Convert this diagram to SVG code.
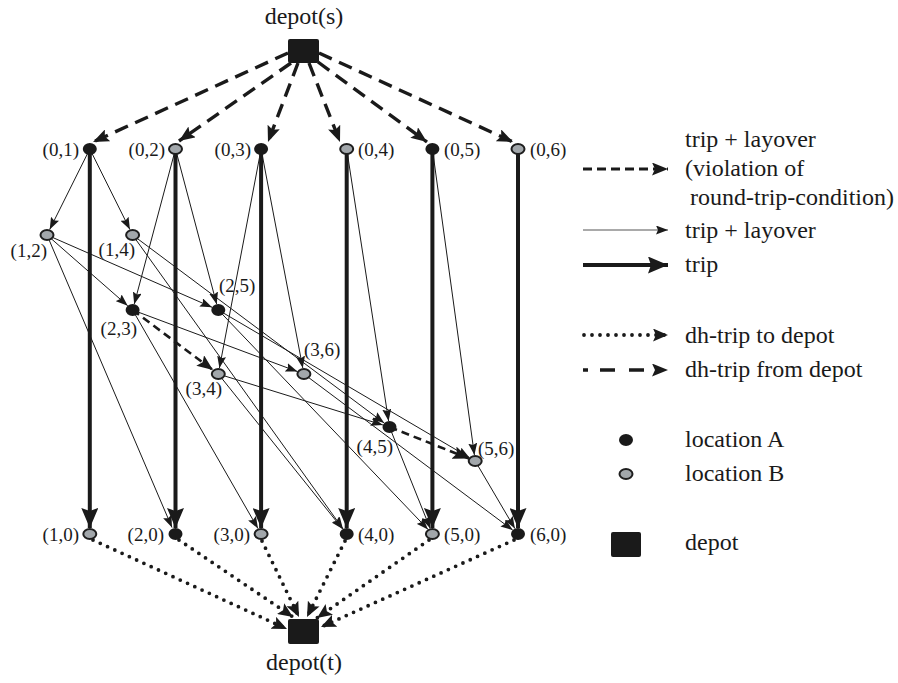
<svg xmlns="http://www.w3.org/2000/svg" width="898" height="683" viewBox="0 0 898 683" font-family="Liberation Serif, Times New Roman, DejaVu Serif, serif">
<style>
.lbl{font-size:19px;fill:#1a1a1a}
.big{font-size:24px;fill:#1a1a1a}
.na{fill:#1a1a1a}
.nb{fill:#a2a7ab;stroke:#1e1e1e;stroke-width:2}
.dep{fill:#1a1a1a}
.thin{stroke:#1a1a1a;stroke-width:1;fill:none;marker-end:url(#mThin)}
.thick{stroke:#1a1a1a;stroke-width:4;fill:none;marker-end:url(#mThick)}
.viol{stroke:#1a1a1a;stroke-width:2.6;fill:none;stroke-dasharray:8 5;marker-end:url(#mViol)}
.from{stroke:#1a1a1a;stroke-width:3.4;fill:none;stroke-dasharray:14 8;marker-end:url(#mFrom)}
.to{stroke:#1a1a1a;stroke-width:3.8;fill:none;stroke-dasharray:0 8;stroke-linecap:round;marker-end:url(#mTo)}
</style>
<defs>
<marker id="mThin" markerUnits="userSpaceOnUse" orient="auto" markerWidth="13" markerHeight="9" refX="12" refY="4.5"><path d="M0,0 L12,4.5 L0,9 L2,4.5 z" fill="#1a1a1a"/></marker>
<marker id="mThick" markerUnits="userSpaceOnUse" orient="auto" markerWidth="21" markerHeight="17" refX="20" refY="8.5"><path d="M0,0 L20,8.5 L0,17 L3,8.5 z" fill="#1a1a1a"/></marker>
<marker id="mViol" markerUnits="userSpaceOnUse" orient="auto" markerWidth="17" markerHeight="13" refX="16" refY="6.5"><path d="M0,0 L16,6.5 L0,13 L3,6.5 z" fill="#1a1a1a"/></marker>
<marker id="mFrom" markerUnits="userSpaceOnUse" orient="auto" markerWidth="17" markerHeight="13" refX="16" refY="6.5"><path d="M0,0 L16,6.5 L0,13 L3,6.5 z" fill="#1a1a1a"/></marker>
<marker id="mTo" markerUnits="userSpaceOnUse" orient="auto" markerWidth="16" markerHeight="13" refX="15" refY="6.5"><path d="M0,0 L15,6.5 L0,13 L3,6.5 z" fill="#1a1a1a"/></marker>
</defs>

<g id="connectors">
<line class="from" x1="288" y1="53" x2="93" y2="142"/>
<line class="from" x1="291" y1="63" x2="179" y2="141"/>
<line class="from" x1="298" y1="63" x2="268" y2="142"/>
<line class="from" x1="309" y1="63" x2="340" y2="142"/>
<line class="from" x1="318" y1="62" x2="427" y2="142"/>
<line class="from" x1="319" y1="53" x2="513" y2="142"/>
<line class="thick" x1="89.8" y1="149" x2="89.8" y2="528"/>
<line class="thick" x1="175.5" y1="149" x2="175.5" y2="528"/>
<line class="thick" x1="261.1" y1="149" x2="261.1" y2="528"/>
<line class="thick" x1="346.7" y1="149" x2="346.7" y2="528"/>
<line class="thick" x1="432.4" y1="149" x2="432.4" y2="528"/>
<line class="thick" x1="518" y1="149" x2="518" y2="528"/>
<line class="thin" x1="89.8" y1="149" x2="49.7" y2="229.5"/>
<line class="thin" x1="89.8" y1="149" x2="129.9" y2="229.5"/>
<line class="thin" x1="175.5" y1="149" x2="134.2" y2="304.2"/>
<line class="thin" x1="175.5" y1="149" x2="216.7" y2="304.2"/>
<line class="thin" x1="261.1" y1="149" x2="219.4" y2="368.1"/>
<line class="thin" x1="261.1" y1="149" x2="302.8" y2="368.1"/>
<line class="thin" x1="346.7" y1="149" x2="388.6" y2="421"/>
<line class="thin" x1="432.4" y1="149" x2="474.4" y2="455"/>
<line class="thin" x1="47" y1="235" x2="127.7" y2="305.7"/>
<line class="thin" x1="47" y1="235" x2="212.1" y2="307.3"/>
<line class="thin" x1="47" y1="235" x2="172" y2="527.5"/>
<line class="thin" x1="132.6" y1="235" x2="384.2" y2="423"/>
<line class="thin" x1="132.6" y1="235" x2="343" y2="528.9"/>
<line class="thin" x1="132.6" y1="310" x2="297.5" y2="371.6"/>
<line class="thin" x1="132.6" y1="310" x2="258" y2="528.6"/>
<line class="thin" x1="218.3" y1="310" x2="469.4" y2="457.6"/>
<line class="thin" x1="218.3" y1="310" x2="428" y2="529.4"/>
<line class="thin" x1="218.3" y1="374" x2="382.9" y2="425"/>
<line class="thin" x1="218.3" y1="374" x2="342.7" y2="529.1"/>
<line class="thin" x1="303.9" y1="374" x2="512.7" y2="530.1"/>
<line class="thin" x1="389.5" y1="427" x2="430.1" y2="528.3"/>
<line class="thin" x1="475.2" y1="461" x2="514.9" y2="528.6"/>
<line class="viol" x1="132.6" y1="310" x2="213" y2="370.1"/>
<line class="viol" x1="389.5" y1="427" x2="468.9" y2="458.5"/>
<line class="to" x1="93" y1="540" x2="287" y2="629"/>
<line class="to" x1="179" y1="540" x2="293" y2="617"/>
<line class="to" x1="262" y1="541" x2="299" y2="617"/>
<line class="to" x1="345" y1="541" x2="307" y2="617"/>
<line class="to" x1="429" y1="540" x2="317" y2="618"/>
<line class="to" x1="514" y1="540" x2="321" y2="627"/>
</g>

<g id="depot-s"><rect class="dep" x="288" y="39" width="31" height="24" rx="2"/><text class="big" x="304" y="24" text-anchor="middle">depot(s)</text></g>
<g id="depot-t"><rect class="dep" x="288" y="619" width="31" height="25" rx="2"/><text class="big" x="304" y="670" text-anchor="middle">depot(t)</text></g>

<g id="n01"><ellipse class="na" cx="89.8" cy="149" rx="7" ry="6"/><text class="lbl" x="79" y="156" text-anchor="end">(0,1)</text></g>
<g id="n02"><ellipse class="nb" cx="175.5" cy="149" rx="6.5" ry="5"/><text class="lbl" x="165" y="156" text-anchor="end">(0,2)</text></g>
<g id="n03"><ellipse class="na" cx="261.1" cy="149" rx="7" ry="6"/><text class="lbl" x="251" y="156" text-anchor="end">(0,3)</text></g>
<g id="n04"><ellipse class="nb" cx="346.7" cy="149" rx="6.5" ry="5"/><text class="lbl" x="358" y="156">(0,4)</text></g>
<g id="n05"><ellipse class="na" cx="432.4" cy="149" rx="7" ry="6"/><text class="lbl" x="444" y="156">(0,5)</text></g>
<g id="n06"><ellipse class="nb" cx="518" cy="149" rx="6.5" ry="5"/><text class="lbl" x="530" y="156">(0,6)</text></g>
<g id="n12"><ellipse class="nb" cx="47" cy="235" rx="6.5" ry="5"/><text class="lbl" x="47" y="257" text-anchor="end">(1,2)</text></g>
<g id="n14"><ellipse class="nb" cx="132.6" cy="235" rx="6.5" ry="5"/><text class="lbl" x="135" y="256" text-anchor="end">(1,4)</text></g>
<g id="n23"><ellipse class="na" cx="132.6" cy="310" rx="7" ry="6"/><text class="lbl" x="137" y="335" text-anchor="end">(2,3)</text></g>
<g id="n25"><ellipse class="na" cx="218.3" cy="310" rx="7" ry="6"/><text class="lbl" x="219" y="292">(2,5)</text></g>
<g id="n34"><ellipse class="nb" cx="218.3" cy="374" rx="6.5" ry="5"/><text class="lbl" x="222" y="395" text-anchor="end">(3,4)</text></g>
<g id="n36"><ellipse class="nb" cx="303.9" cy="374" rx="6.5" ry="5"/><text class="lbl" x="304" y="356">(3,6)</text></g>
<g id="n45"><ellipse class="na" cx="389.5" cy="427" rx="7" ry="6"/><text class="lbl" x="393" y="453" text-anchor="end">(4,5)</text></g>
<g id="n56"><ellipse class="nb" cx="475.2" cy="461" rx="6.5" ry="5"/><text class="lbl" x="478" y="455">(5,6)</text></g>
<g id="n10"><ellipse class="nb" cx="89.8" cy="534" rx="6.5" ry="5"/><text class="lbl" x="79" y="541" text-anchor="end">(1,0)</text></g>
<g id="n20"><ellipse class="na" cx="175.5" cy="534" rx="7" ry="6"/><text class="lbl" x="164" y="541" text-anchor="end">(2,0)</text></g>
<g id="n30"><ellipse class="nb" cx="261.1" cy="534" rx="6.5" ry="5"/><text class="lbl" x="250" y="541" text-anchor="end">(3,0)</text></g>
<g id="n40"><ellipse class="na" cx="346.7" cy="534" rx="7" ry="6"/><text class="lbl" x="358" y="541">(4,0)</text></g>
<g id="n50"><ellipse class="nb" cx="432.4" cy="534" rx="6.5" ry="5"/><text class="lbl" x="444" y="541">(5,0)</text></g>
<g id="n60"><ellipse class="na" cx="518" cy="534" rx="7" ry="6"/><text class="lbl" x="530" y="541">(6,0)</text></g>

<g id="legend">
<line class="viol" x1="583" y1="169" x2="668" y2="169" style="stroke-dasharray:9 5;stroke-width:3"/>
<text class="big" x="685" y="147">trip + layover</text>
<text class="big" x="685" y="176">(violation of</text>
<text class="big" x="690" y="205">round-trip-condition)</text>
<line class="thin" x1="583" y1="230" x2="668" y2="230" style="stroke:#555"/>
<text class="big" x="685" y="238">trip + layover</text>
<line class="thick" x1="583" y1="265" x2="668" y2="265"/>
<text class="big" x="685" y="272">trip</text>
<line class="to" x1="584" y1="335" x2="668" y2="335"/>
<text class="big" x="685" y="343">dh-trip to depot</text>
<line class="from" x1="583" y1="370" x2="668" y2="370" style="stroke-dasharray:5 12 15 14 15 14"/>
<text class="big" x="685" y="377">dh-trip from depot</text>
<ellipse class="na" cx="626" cy="440" rx="7" ry="6"/>
<text class="big" x="685" y="447">location A</text>
<ellipse class="nb" cx="626" cy="474" rx="6.5" ry="5"/>
<text class="big" x="685" y="481">location B</text>
<rect class="dep" x="611" y="532" width="30" height="25" rx="2"/>
<text class="big" x="685" y="550">depot</text>
</g>
</svg>
